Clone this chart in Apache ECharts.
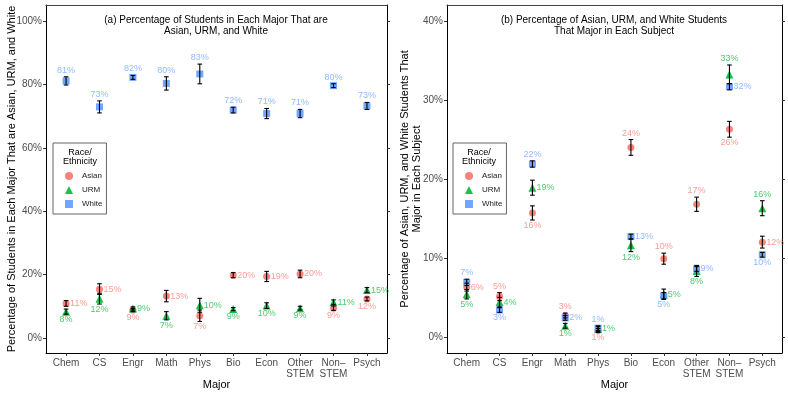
<!DOCTYPE html>
<html>
<head>
<meta charset="utf-8">
<script src="https://cdn.jsdelivr.net/npm/echarts@6/dist/echarts.min.js"></script>
<style>
  html, body { margin: 0; padding: 0; background: #fff; }
  #main { width: 788px; height: 394px; }
</style>
</head>
<body>
<div id="main"></div>
<script>
// categories on the x axis of both panels
const majors = ['Chem', 'CS', 'Engr', 'Math', 'Phys', 'Bio', 'Econ', 'Other\nSTEM', 'Non\u2013\nSTEM', 'Psych'];
const groups = ['Asian', 'URM', 'White'];

// panel (a): % of students in each major that are Asian / URM / White
const aAsian = [10.9, 15.4, 8.8, 13.2, 7.0, 19.8, 19.4, 20.2, 9.4, 12.3];
const aAsianErr = [0.9, 1.7, 0.5, 1.8, 1.8, 0.8, 1.6, 1.2, 0.7, 0.6];
const aURM = [8.3, 12.4, 9.3, 7.0, 10.3, 9.1, 10.2, 9.4, 11.3, 15.1];
const aURMErr = [0.8, 1.7, 0.5, 1.3, 2.2, 0.5, 0.9, 0.6, 0.7, 0.8];
const aWhite = [81.1, 72.9, 82.2, 80.3, 83.3, 71.9, 70.8, 70.8, 79.6, 73.2];
const aWhiteErr = [1.3, 1.9, 0.6, 2.1, 3.1, 0.9, 1.6, 1.3, 0.6, 1.1];

// panel (b): % of Asian / URM / White students that major in each subject
const bAsian = [6.3, 5.1, 15.7, 2.7, 0.8, 24.0, 9.9, 16.8, 26.3, 12.0];
const bAsianErr = [0.5, 0.5, 0.9, 0.3, 0.25, 1.0, 0.7, 0.9, 1.0, 0.75];
const bURM = [5.4, 4.4, 18.9, 1.4, 1.0, 11.6, 5.4, 8.35, 33.25, 16.3];
const bURMErr = [0.6, 0.6, 0.95, 0.3, 0.3, 0.8, 0.65, 0.7, 1.2, 0.95];
const bWhite = [6.9, 3.4, 21.9, 2.4, 1.1, 12.7, 5.2, 8.6, 31.7, 10.4];
const bWhiteErr = [0.4, 0.3, 0.4, 0.3, 0.3, 0.3, 0.4, 0.3, 0.4, 0.3];

// y ticks
const aTicks = [0, 20, 40, 60, 80, 100];
const bTicks = [0, 10, 20, 30, 40];

// where each value label sits: t = above bar, b = below bar, r = right of point
const aPlace = {
  Asian: ['r', 'r', 'b', 'r', 'b', 'r', 'r', 'r', 'b', 'b'],
  URM:   ['b', 'b', 'r', 'b', 'r', 'b', 'b', 'b', 'r', 'r'],
  White: ['t', 't', 't', 't', 't', 't', 't', 't', 't', 't']
};
const bPlace = {
  Asian: ['r', 't', 'b', 't', 'b', 't', 't', 't', 'b', 'r'],
  URM:   ['b', 'r', 'r', 'b', 'r', 'b', 'r', 'b', 't', 't'],
  White: ['t', 'b', 't', 'r', 't', 'r', 'b', 'r', 'r', 'b']
};

const FONT = "'Liberation Sans', Arial, sans-serif";
const colors = { Asian: '#F8766D', URM: '#00BA38', White: '#619CFF' };
const labelColors = { Asian: '#F8857D', URM: '#1DBF4A', White: '#76A9FF' };
const symbols = { Asian: 'circle', URM: 'triangle', White: 'rect' };
const symbolSizes = { Asian: 7, URM: 8, White: 7 };

const panels = [
  { vals: { Asian: aAsian, URM: aURM, White: aWhite },
    errs: { Asian: aAsianErr, URM: aURMErr, White: aWhiteErr },
    place: aPlace, ticks: aTicks, min: -4.75, max: 105.05 },
  { vals: { Asian: bAsian, URM: bURM, White: bWhite },
    errs: { Asian: bAsianErr, URM: bURMErr, White: bWhiteErr },
    place: bPlace, ticks: bTicks, min: -2.05, max: 42.05 }
];

const grids = [
  { left: 46, right: 401, top: 5, bottom: 41, outerBoundsMode: 'none', containLabel: false },
  { left: 447, right: 6, top: 5, bottom: 41, outerBoundsMode: 'none', containLabel: false }
];

const xAxes = [];
const yAxes = [];
const series = [];

panels.forEach((p, pi) => {
  xAxes.push({
    type: 'value', gridIndex: pi, min: -0.6, max: 9.6,
    name: 'Major', nameLocation: 'middle', nameGap: 26, nameMoveOverlap: false,
    nameTextStyle: { fontFamily: FONT, fontSize: 11, color: '#000' },
    axisLine: { onZero: false, lineStyle: { color: '#000', width: 1 } },
    axisTick: { length: 3, lineStyle: { color: '#333' }, customValues: [0, 1, 2, 3, 4, 5, 6, 7, 8, 9] },
    axisLabel: {
      customValues: [0, 1, 2, 3, 4, 5, 6, 7, 8, 9],
      formatter: v => majors[Math.round(v)],
      fontFamily: FONT, fontSize: 10, color: '#4D4D4D', margin: 5, lineHeight: 11
    },
    splitLine: { show: false }
  });
  // top border
  xAxes.push({
    type: 'value', gridIndex: pi, position: 'top', min: -0.6, max: 9.6,
    axisLine: { show: true, onZero: false, lineStyle: { color: '#444', width: 1 } },
    axisTick: { show: false }, axisLabel: { show: false }, splitLine: { show: false }
  });
  yAxes.push({
    type: 'value', gridIndex: pi, min: p.min, max: p.max,
    name: pi === 0
      ? 'Percentage of Students in Each Major That are Asian, URM, and White'
      : 'Percentage of Asian, URM, and White Students That\nMajor in Each Subject',
    nameLocation: 'middle', nameGap: pi === 0 ? 28 : 24, nameMoveOverlap: false,
    nameTextStyle: { fontFamily: FONT, fontSize: 11, color: '#000', lineHeight: 12 },
    axisLine: { show: true, onZero: false, lineStyle: { color: '#000', width: 1 } },
    axisTick: { show: true, length: 3, lineStyle: { color: '#333' }, customValues: p.ticks },
    axisLabel: {
      customValues: p.ticks, formatter: v => v + '%',
      fontFamily: FONT, fontSize: 10, color: '#4D4D4D', margin: 4
    },
    splitLine: { show: false }
  });
  // right side ticks, no labels
  yAxes.push({
    type: 'value', gridIndex: pi, position: 'right', min: p.min, max: p.max,
    axisLine: { show: true, onZero: false, lineStyle: { color: '#000', width: 1 } },
    axisTick: { show: true, length: 3, lineStyle: { color: '#333' }, customValues: p.ticks },
    axisLabel: { show: false },
    splitLine: { show: false }
  });

  const xi = pi * 2;
  const yi = pi * 2;

  groups.forEach(g => {
    series.push({
      name: g, type: 'scatter', xAxisIndex: xi, yAxisIndex: yi,
      symbol: symbols[g], symbolSize: symbolSizes[g],
      itemStyle: { color: colors[g], opacity: 0.9 },
      data: p.vals[g].map((v, i) => [i, v]),
      z: 2, silent: true
    });
  });

  // error bars drawn on top of points
  const barData = [];
  groups.forEach(g => {
    p.vals[g].forEach((v, i) => barData.push([i, v - p.errs[g][i], v + p.errs[g][i]]));
  });
  series.push({
    type: 'custom', xAxisIndex: xi, yAxisIndex: yi, z: 3, silent: true,
    data: barData,
    encode: { x: 0, y: [1, 2] },
    renderItem: (params, api) => {
      const lo = api.coord([api.value(0), api.value(1)]);
      const hi = api.coord([api.value(0), api.value(2)]);
      const w = 2.3;
      const st = { stroke: '#000', lineWidth: 1.1 };
      return {
        type: 'group',
        children: [
          { type: 'line', shape: { x1: lo[0], y1: lo[1], x2: hi[0], y2: hi[1] }, style: st },
          { type: 'line', shape: { x1: lo[0] - w, y1: lo[1], x2: lo[0] + w, y2: lo[1] }, style: st },
          { type: 'line', shape: { x1: hi[0] - w, y1: hi[1], x2: hi[0] + w, y2: hi[1] }, style: st }
        ]
      };
    }
  });

  // value labels
  groups.forEach(g => {
    const data = p.vals[g].map((v, i) => {
      const pl = p.place[g][i];
      const e = p.errs[g][i];
      const y = pl === 't' ? v + e : pl === 'b' ? v - e : v;
      const pos = pl === 't' ? 'top' : pl === 'b' ? 'bottom' : 'right';
      return {
        value: [i, y],
        label: { position: pos, distance: pl === 'r' ? 4 : pl === 't' ? 2 : 1 },
        pct: Math.round(v) + '%'
      };
    });
    series.push({
      type: 'scatter', xAxisIndex: xi, yAxisIndex: yi, z: 4, silent: true,
      symbolSize: 0.01, itemStyle: { color: 'transparent' },
      data: data,
      label: {
        show: true, fontFamily: FONT, fontSize: 9, color: labelColors[g],
        formatter: prm => prm.data.pct
      }
    });
  });
});

const legendBase = {
  data: groups, orient: 'vertical', top: 143,
  padding: [29, 4, 6, 12], itemGap: 6, itemWidth: 8, itemHeight: 8,
  borderColor: '#666', borderWidth: 1, borderRadius: 0,
  textStyle: { fontFamily: FONT, fontSize: 8, color: '#222', padding: [0, 0, 0, 4] },
  selectedMode: false
};

const chart = echarts.init(document.getElementById('main'), null, { renderer: 'canvas' });
chart.setOption({
  animation: false,
  backgroundColor: '#fff',
  grid: grids,
  xAxis: xAxes,
  yAxis: yAxes,
  legend: [
    Object.assign({}, legendBase, { left: 53 }),
    Object.assign({}, legendBase, { left: 453 })
  ],
  graphic: [
    { type: 'text', x: 216, y: 15, style: { text: '(a) Percentage of Students in Each Major That are\nAsian, URM, and White', textAlign: 'center', fontFamily: FONT, fontSize: 10, lineHeight: 11, fill: '#000' } },
    { type: 'text', x: 614, y: 15, style: { text: '(b) Percentage of Asian, URM, and White Students\nThat Major in Each Subject', textAlign: 'center', fontFamily: FONT, fontSize: 10, lineHeight: 11, fill: '#000' } },
    { type: 'text', x: 80, y: 148, style: { text: 'Race/\nEthnicity', textAlign: 'center', fontFamily: FONT, fontSize: 9, lineHeight: 9, fill: '#000' }, z: 10 },
    { type: 'text', x: 479, y: 148, style: { text: 'Race/\nEthnicity', textAlign: 'center', fontFamily: FONT, fontSize: 9, lineHeight: 9, fill: '#000' }, z: 10 }
  ],
  series: series
});
</script>
</body>
</html>
